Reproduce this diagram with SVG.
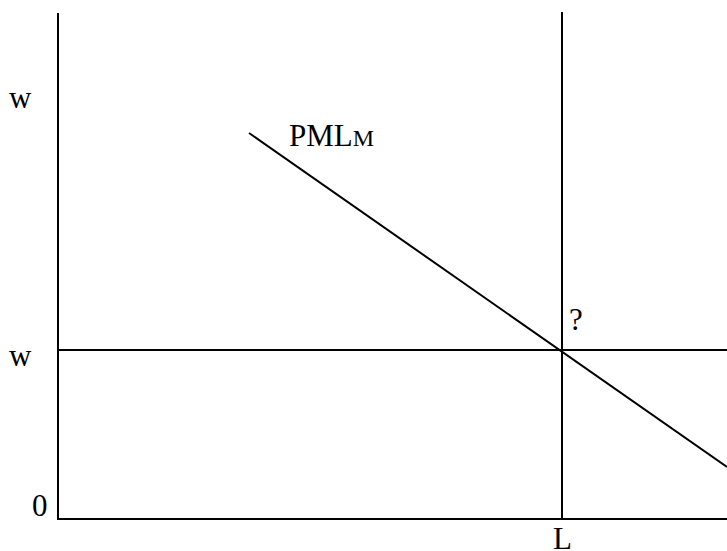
<svg xmlns="http://www.w3.org/2000/svg" width="727" height="551" viewBox="0 0 727 551">
<style>
.ln{stroke:#000;stroke-width:2;fill:none}
.t{font-family:"Liberation Serif",serif;font-size:31px;fill:#000}
</style>
<rect width="727" height="551" fill="#fff"/>
<g id="connectors">
<line class="ln" x1="58" y1="13" x2="58" y2="520"/>
<line class="ln" x1="57" y1="519" x2="727" y2="519"/>
<line class="ln" x1="562" y1="12" x2="562" y2="519"/>
<line class="ln" x1="58" y1="350" x2="727" y2="350"/>
<line class="ln" x1="249" y1="133" x2="727" y2="467"/>
</g>
<g id="labels">
<text class="t" x="9" y="108">w</text>
<text class="t" x="9" y="366">w</text>
<text class="t" x="32" y="516">0</text>
<text class="t" x="553" y="549">L</text>
<text class="t" x="569" y="330">?</text>
<text class="t" x="289" y="146">PML<tspan font-size="24">M</tspan></text>
</g>
</svg>
